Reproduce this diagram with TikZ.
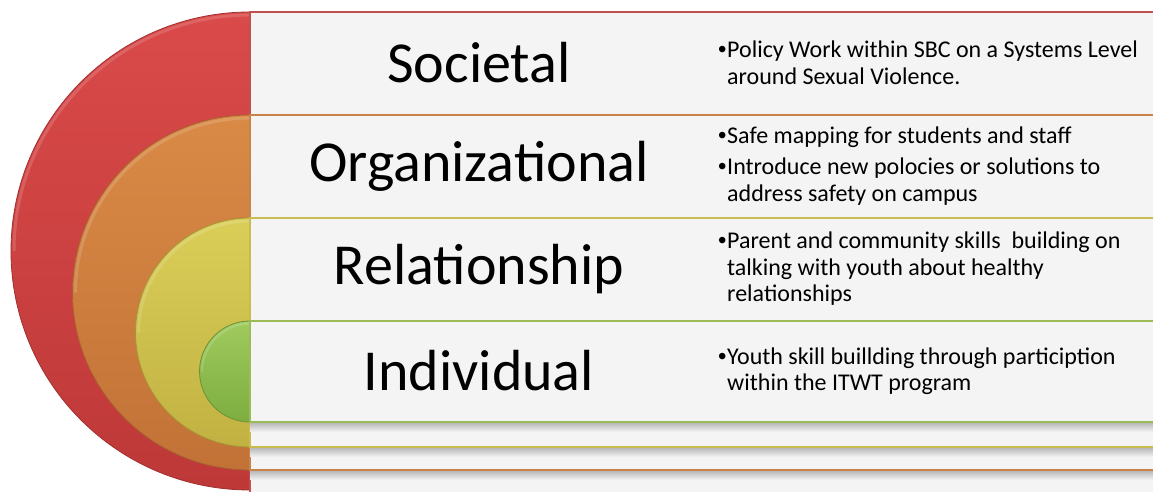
\documentclass[tikz,border=0pt]{standalone}
\usepackage{fontspec}
\setmainfont{Carlito}
\newfontfamily\bulfont{Liberation Sans}
\definecolor{panel}{HTML}{F4F4F4}
\definecolor{redT}{HTML}{DA4A4A}
\definecolor{redB}{HTML}{BE3838}
\definecolor{redL}{HTML}{C0504D}
\definecolor{orT}{HTML}{D98A46}
\definecolor{orB}{HTML}{C27236}
\definecolor{orL}{HTML}{C8834A}
\definecolor{yeT}{HTML}{DACE58}
\definecolor{yeB}{HTML}{C1B142}
\definecolor{yeL}{HTML}{C9BC4E}
\definecolor{grT}{HTML}{A0CA5E}
\definecolor{grB}{HTML}{7DAD40}
\definecolor{grL}{HTML}{9BBB59}
\newcommand{\bl}{\makebox[9pt][l]{\bulfont •}}
\newcommand{\ind}{\hspace*{9pt}}
\begin{document}
\begin{tikzpicture}[x=1pt,y=1pt,
  title/.style={font=\fontsize{58}{62}\selectfont, inner sep=0pt, anchor=center},
  body/.style={font=\fontsize{24}{26.5}\selectfont, align=left, anchor=west, inner sep=0pt},
  panelbox/.style={fill=panel, line width=1.3pt},
  disc/.style={line width=0.8pt},
  rim/.style={white, opacity=0.15, line width=3pt},
  shadowstrip/.style={top color=black!30, bottom color=panel}]
\clip (0,0) rectangle (1153,492);
\fill[white] (0,0) rectangle (1153,492);
% red level
\shade[disc, top color=redT, bottom color=redB, draw=redB!85!black] (250,480) arc[start angle=90, end angle=270, radius=239] -- cycle;
\draw[rim] (250,477) arc[start angle=90, end angle=180, radius=236];
\path[panelbox, draw=redL] (250,-5) rectangle (1160,480);
% orange level
\shade[shadowstrip] (250,12) rectangle (1160,22);
\shade[disc, top color=orT, bottom color=orB, draw=orB!85!black] (250,377) arc[start angle=90, end angle=270, radius=177.5] -- cycle;
\draw[rim] (250,374) arc[start angle=90, end angle=180, radius=174.5];
\path[panelbox, draw=orL] (250,22) rectangle (1160,377);
% yellow level
\shade[shadowstrip] (250,35) rectangle (1160,45);
\shade[disc, top color=yeT, bottom color=yeB, draw=yeB!85!black] (250,274) arc[start angle=90, end angle=270, radius=114.5] -- cycle;
\draw[rim] (250,271) arc[start angle=90, end angle=180, radius=111.5];
\path[panelbox, draw=yeL] (250,45) rectangle (1160,274);
% green level
\shade[shadowstrip] (250,60) rectangle (1160,70);
\shade[disc, top color=grT, bottom color=grB, draw=grB!85!black] (250,171) arc[start angle=90, end angle=270, radius=50.5] -- cycle;
\draw[rim, line width=2.5pt] (250,168.5) arc[start angle=90, end angle=180, radius=48];
\path[panelbox, draw=grL] (250,70) rectangle (1160,171);
% titles
\node[title] (t1) at (479,429) {Societal};
\node[title] (t2) at (479,326) {Organizational};
\node[title] (t3) at (479,223) {Relationship};
\node[title] (t4) at (479,121) {Individual};
% bullet texts
\node[body] (b1) at (718,429) {\bl Policy Work within SBC on a Systems Level\\\ind around Sexual Violence.};
\node[body] (b2) at (718,326) {\bl Safe mapping for students and staff\\[4.5pt]\bl Introduce new polocies or solutions to\\\ind address safety on campus};
\node[body] (b3) at (718,223) {\bl Parent and community skills\ \ building on\\\ind talking with youth about healthy\\\ind relationships};
\node[body] (b4) at (718,121) {\bl Youth skill buillding through particiption\\\ind within the ITWT program};
\end{tikzpicture}
\end{document}
